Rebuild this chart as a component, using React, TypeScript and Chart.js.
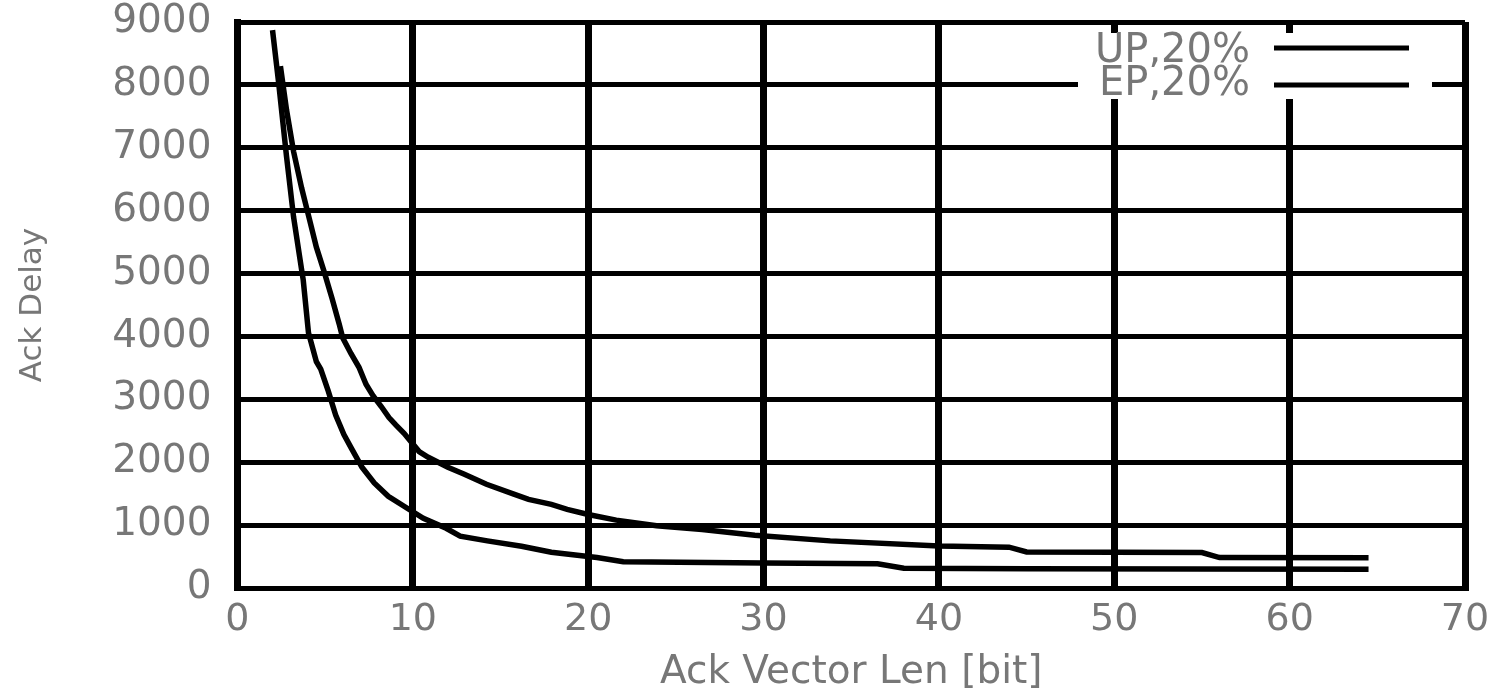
import React, { useEffect, useRef } from "react";
import { Chart, registerables } from "chart.js";

Chart.register(...registerables);

// Axis ticks
const xTickValues = [0, 10, 20, 30, 40, 50, 60, 70];
const yTickValues = [0, 1000, 2000, 3000, 4000, 5000, 6000, 7000, 8000, 9000];

// Series labels
const seriesLabels = ["UP,20%", "EP,20%"];

// UP,20% (upper curve)
const upX = [2.45, 2.8, 3.2, 3.66, 4.1, 4.5, 4.92, 5.4, 5.8, 6.0, 6.47, 6.93, 7.33, 7.73, 8.19, 8.64, 9.04, 9.5, 10.36, 10.88, 12.0, 12.94, 14.2, 15.8, 16.6, 17.9, 18.8, 20.0, 21.6, 23.9, 26.5, 29.5, 33.8, 40, 44, 45, 55, 56, 64.5];
const upY = [8300, 7600, 6940, 6360, 5870, 5420, 5050, 4600, 4200, 3980, 3730, 3510, 3240, 3060, 2890, 2710, 2590, 2460, 2170, 2080, 1920, 1810, 1650, 1490, 1410, 1330, 1250, 1170, 1080, 990, 930, 840, 750, 670, 650, 575, 565, 485, 480];

// EP,20% (lower curve)
const epX = [2.0, 2.35, 2.8, 3.2, 3.66, 3.75, 4.05, 4.5, 4.75, 5.18, 5.6, 6.07, 6.5, 7.1, 7.8, 8.6, 9.5, 10.6, 11.9, 12.7, 14.25, 16.2, 17.9, 20.5, 22, 30, 36.5, 38, 45, 64.5];
const epY = [8870, 8030, 6860, 5900, 5060, 4900, 4060, 3600, 3480, 3130, 2750, 2440, 2220, 1920, 1670, 1460, 1300, 1110, 950, 825, 750, 665, 570, 485, 420, 400, 385, 315, 305, 300];

const TEXT_COLOR = "#777777";
const FONT = "'DejaVu Sans', sans-serif";

const boxLegend = {
  id: "boxLegend",
  afterDraw(chart: any) {
    const { ctx, chartArea } = chart;
    const right = chartArea.right;
    const top = chartArea.top;
    ctx.save();
    ctx.fillStyle = "#ffffff";
    ctx.fillRect(right - 387, top + 11, 354, 66);
    const rows = [
      { label: seriesLabels[0], y: top + 26, base: top + 40 },
      { label: seriesLabels[1], y: top + 63, base: top + 73 },
    ];
    rows.forEach((r) => {
      ctx.fillStyle = TEXT_COLOR;
      ctx.font = `40px ${FONT}`;
      ctx.textAlign = "right";
      ctx.textBaseline = "alphabetic";
      ctx.fillText(r.label, right - 215, r.base);
      ctx.strokeStyle = "#000";
      ctx.lineWidth = 5;
      ctx.beginPath();
      ctx.moveTo(right - 191, r.y);
      ctx.lineTo(right - 56, r.y);
      ctx.stroke();
    });
    ctx.restore();
  },
};

export default function App() {
  const ref = useRef<HTMLCanvasElement | null>(null);

  useEffect(() => {
    if (!ref.current) return;
    const chart = new Chart(ref.current, {
      type: "line",
      data: {
        datasets: [
          {
            label: seriesLabels[0],
            data: upX.map((x, i) => ({ x, y: upY[i] })),
            borderColor: "#000",
            borderWidth: 5.5,
            pointRadius: 0,
            tension: 0,
            fill: false,
          },
          {
            label: seriesLabels[1],
            data: epX.map((x, i) => ({ x, y: epY[i] })),
            borderColor: "#000",
            borderWidth: 5.5,
            pointRadius: 0,
            tension: 0,
            fill: false,
          },
        ],
      },
      options: {
        animation: false,
        responsive: false,
        devicePixelRatio: 1,
        layout: { padding: { left: 0, top: 22, right: 22, bottom: 0 } },
        plugins: {
          legend: { display: false },
          tooltip: { enabled: false },
        },
        scales: {
          x: {
            type: "linear",
            min: 0,
            max: 70,
            afterBuildTicks: (scale: any) => {
              scale.ticks = xTickValues.map((v) => ({ value: v }));
            },
            afterFit: (scale: any) => {
              scale.paddingLeft = 0;
              scale.paddingRight = 0;
            },
            ticks: {
              color: TEXT_COLOR,
              font: { family: FONT, size: 38, lineHeight: 1 },
              padding: 13,
              maxRotation: 0,
              autoSkip: false,
              callback: (v: any) => String(v),
            },
            grid: { color: "#000", lineWidth: 7, drawTicks: false },
            border: { display: true, color: "#000", width: 5 },
            title: {
              display: true,
              text: "Ack Vector Len [bit]",
              color: TEXT_COLOR,
              font: { family: FONT, size: 39, lineHeight: 1.05 },
              padding: { top: 0, bottom: 0 },
            },
          },
          y: {
            type: "linear",
            min: 0,
            max: 9000,
            afterBuildTicks: (scale: any) => {
              scale.ticks = yTickValues.map((v) => ({ value: v }));
            },
            afterFit: (scale: any) => {
              scale.paddingTop = 0;
              scale.paddingBottom = 0;
            },
            ticks: {
              color: TEXT_COLOR,
              font: { family: FONT, size: 39, lineHeight: 1 },
              padding: 26,
              autoSkip: false,
              callback: (v: any) => String(v),
            },
            grid: { color: "#000", lineWidth: 5, drawTicks: false },
            border: { display: true, color: "#000", width: 7 },
            title: {
              display: true,
              text: "Ack Delay",
              color: TEXT_COLOR,
              font: { family: FONT, size: 31, lineHeight: 1.2 },
              padding: { top: 14, bottom: 35 },
            },
          },
        },
      },
      plugins: [boxLegend],
    });
    return () => chart.destroy();
  }, []);

  return (
    <div style={{ position: "fixed", left: 0, top: 0, width: 1487, height: 693, background: "#fff" }}>
      <canvas ref={ref} width={1487} height={693} />
    </div>
  );
}
